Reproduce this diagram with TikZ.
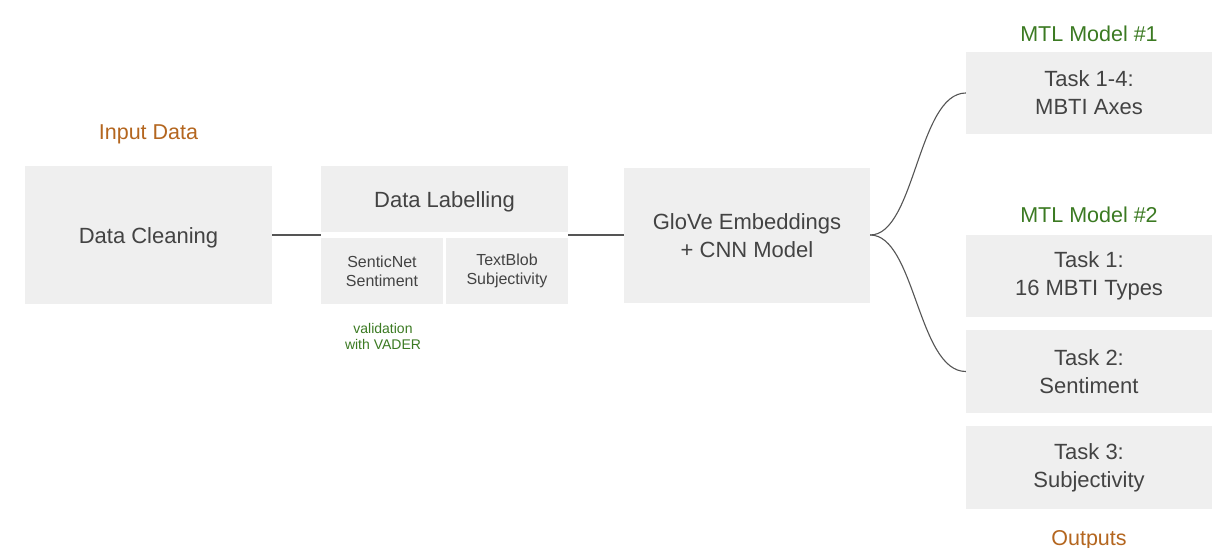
\documentclass[tikz,border=0pt]{standalone}
\usepackage{fontspec}
\setmainfont{Liberation Sans}
\definecolor{boxfill}{HTML}{EFEFEF}
\definecolor{txt}{HTML}{434343}
\definecolor{brown}{HTML}{B4661F}
\definecolor{dgreen}{HTML}{3B7A22}
\definecolor{linec}{HTML}{555555}
\begin{document}
\begin{tikzpicture}[x=1pt,y=-1pt,
  box/.style={rectangle, fill=boxfill, draw=none, inner sep=0pt, align=center, text=txt},
  big/.style={font=\fontsize{22}{28}\selectfont},
  oneline/.style={text height=18pt, text depth=0pt},
  small/.style={font=\fontsize{16}{19}\selectfont},
  conn/.style={draw=linec, line width=1.1pt},
  title/.style={font=\fontsize{21.5}{26}\selectfont, inner sep=0pt}]
\clip (0,0) rectangle (1227,548);
\fill[white] (0,0) rectangle (1227,548);

\node[title, text=brown] (inp) at (148.5,134) {Input Data};
\node[box, big, oneline, minimum width=247pt, minimum height=138pt] (dc) at (148.5,235) {Data Cleaning};
\node[box, big, oneline, minimum width=247pt, minimum height=66pt] (dl) at (444.5,199) {Data Labelling};
\node[box, small, minimum width=122pt, minimum height=66pt] (sn) at (382,271) {SenticNet\\Sentiment};
\node[box, small, minimum width=122pt, minimum height=66pt] (tb) at (507,271) {TextBlob\\Subjectivity};
\node[text=dgreen, align=center, inner sep=0pt, font=\fontsize{14}{16}\selectfont] (val) at (383,336) {validation\\with VADER};
\node[box, big, minimum width=246pt, minimum height=135pt] (gl) at (747,236) {GloVe Embeddings\\+ CNN Model};

\node[title, text=dgreen] (m1) at (1089,34) {MTL Model \#1};
\node[box, big, minimum width=246pt, minimum height=82pt] (t14) at (1089,93) {Task 1-4:\\MBTI Axes};
\node[title, text=dgreen] (m2) at (1089,215) {MTL Model \#2};
\node[box, big, minimum width=246pt, minimum height=82pt] (t1) at (1089,276) {Task 1:\\16 MBTI Types};
\node[box, big, minimum width=246pt, minimum height=83pt] (t2) at (1089,371.5) {Task 2:\\Sentiment};
\node[box, big, minimum width=246pt, minimum height=83pt] (t3) at (1089,467.5) {Task 3:\\Subjectivity};
\node[title, text=brown, anchor=base] (out) at (1089,545.5) {Outputs};

\coordinate (labL) at (321,235);
\coordinate (labR) at (568,235);
\draw[conn] (dc.east) -- (labL);
\draw[conn] (labR) -- (gl.west |- labR);
\draw[conn] (gl.east |- labR) .. controls (915,235) and (918,93) .. (t14.west);
\draw[conn] (gl.east |- labR) .. controls (915,235) and (918,371.5) .. (t2.west);
\end{tikzpicture}
\end{document}
